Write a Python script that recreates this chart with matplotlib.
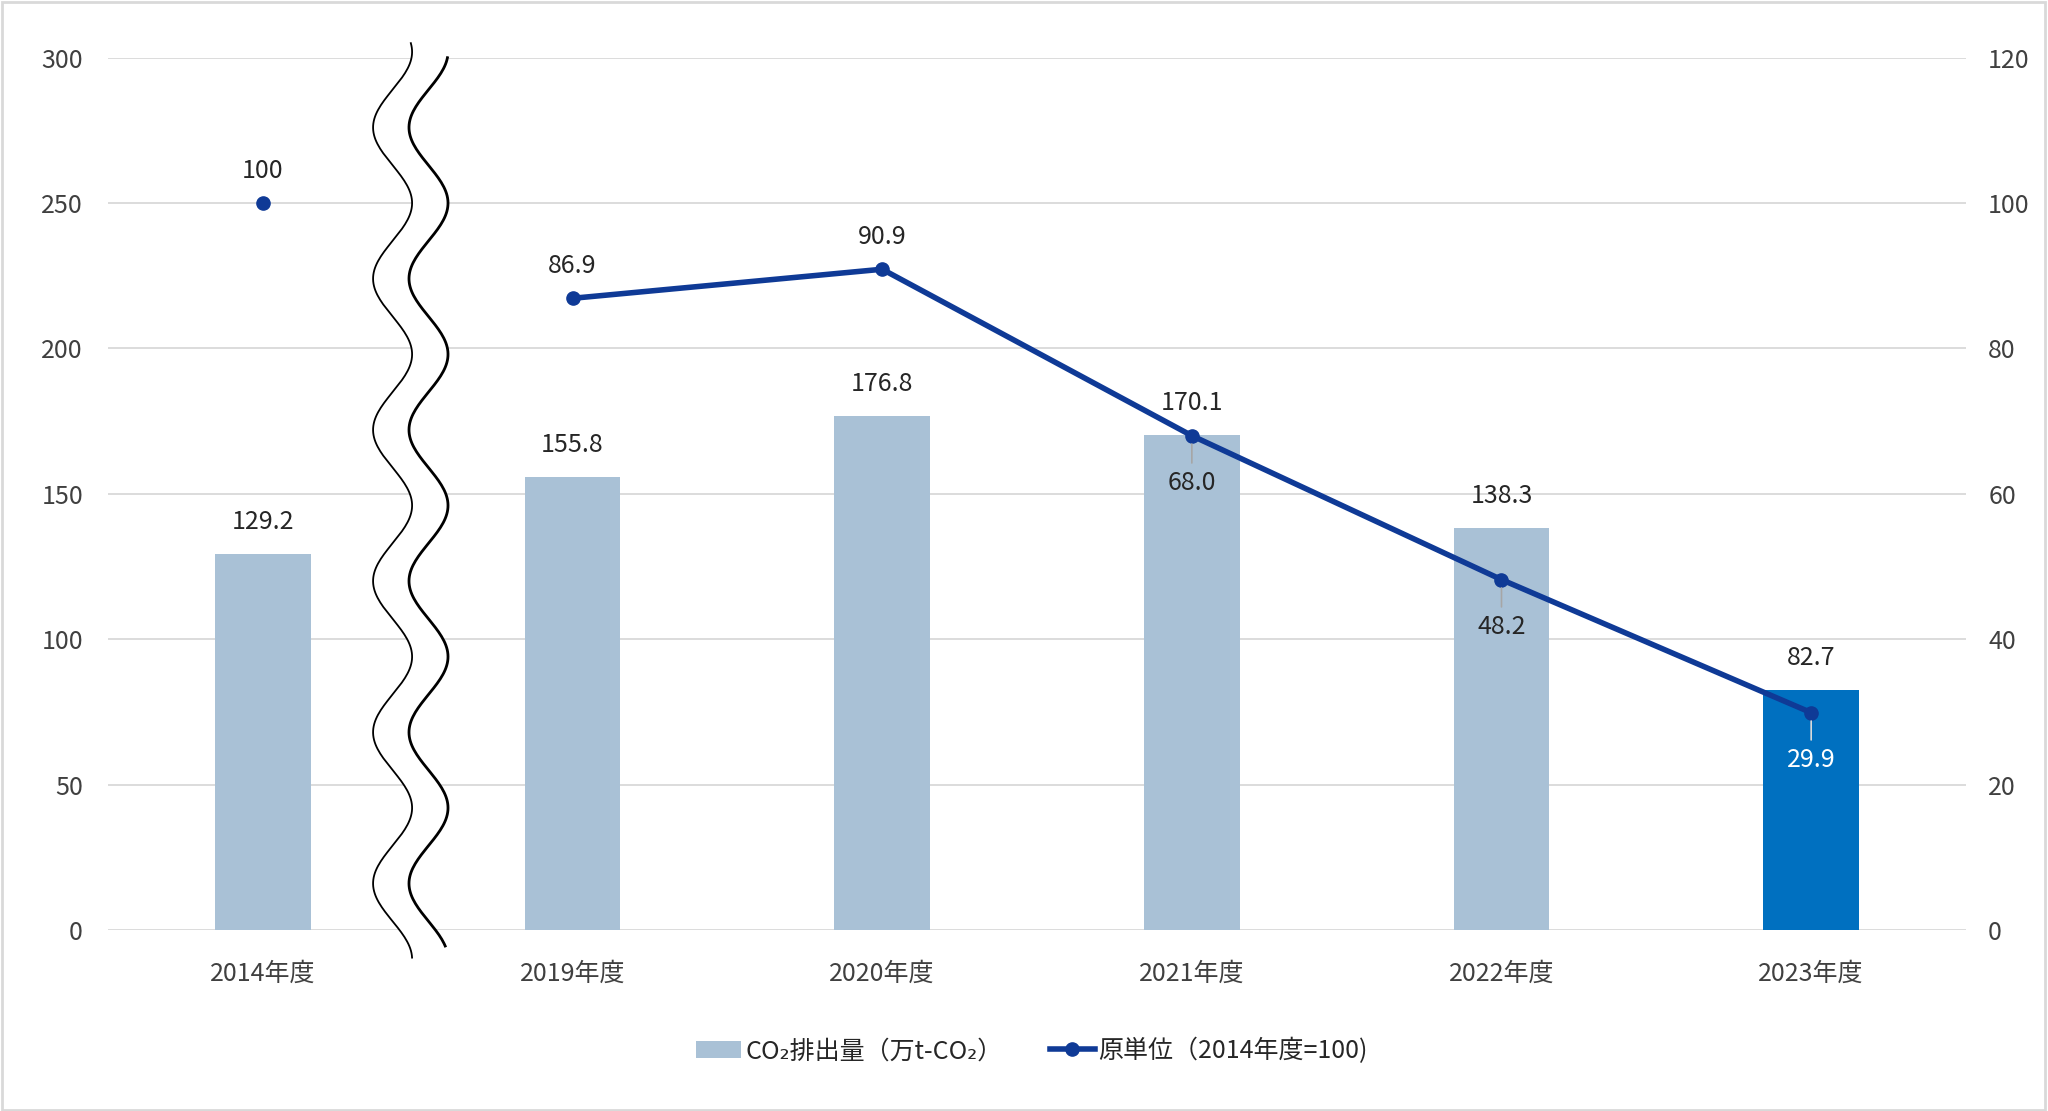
import numpy as np
import matplotlib
matplotlib.use("Agg")
import matplotlib.pyplot as plt
from matplotlib.patches import Rectangle, Polygon

plt.rcParams['font.family'] = ['Noto Sans CJK JP', 'DejaVu Sans']

# --- datos ---
anios = ['2014年度', '2019年度', '2020年度', '2021年度', '2022年度', '2023年度']
co2 = [129.2, 155.8, 176.8, 170.1, 138.3, 82.7]
unidad = [100, 86.9, 90.9, 68.0, 48.2, 29.9]
etiqueta_co2 = 'CO₂排出量（万t-CO₂）'
etiqueta_unidad = '原単位（2014年度=100)'

c_barra = '#A9C1D6'
c_ultima = '#0070C0'
c_linea = '#0F3A96'
c_texto = '#404040'
fs = 18

fig = plt.figure(figsize=(20.48, 11.11), dpi=100)
ax = fig.add_axes([108 / 2048, 1 - 930 / 1111, 1858 / 2048, (930 - 57.7) / 1111])
ax2 = ax.twinx()

x = np.arange(len(anios))
colores = [c_barra] * (len(anios) - 1) + [c_ultima]
barras = ax.bar(x, co2, width=0.31, color=colores, zorder=2, label=etiqueta_co2)

ax.set_xlim(-0.5, len(anios) - 0.5)
ax.set_ylim(0, 300)
ax.set_yticks(np.arange(0, 301, 50))
ax2.set_ylim(0, 120)
ax2.set_yticks(np.arange(0, 121, 20))
ax.set_xticks(x)
ax.set_xticklabels(anios)

ax.grid(axis='y', color='#D9D9D9', lw=1.3, zorder=0)
ax.set_axisbelow(True)
for a in (ax, ax2):
    for s in a.spines.values():
        s.set_visible(False)
ax.tick_params(axis='y', length=0, pad=18, labelsize=fs, labelcolor=c_texto)
ax.tick_params(axis='x', length=0, pad=22, labelsize=fs, labelcolor=c_texto)
ax2.tick_params(axis='y', length=0, pad=16, labelsize=fs, labelcolor=c_texto)

# etiquetas de las barras
for xi, v in zip(x, co2):
    ax.annotate(f'{v:.1f}', (xi, v), xytext=(0, 23), textcoords='offset points',
                ha='center', va='center', fontsize=fs, color='#262626', zorder=5)

# linea del original unitario (2014 aislado)
ax2.plot(x[0], unidad[0], 'o', color=c_linea, ms=9.5, zorder=4)
linea, = ax2.plot(x[1:], unidad[1:], '-o', color=c_linea, lw=4, ms=9.5, zorder=4,
                  label=etiqueta_unidad)

arriba = [True, True, True, False, False, False]
for i, (xi, v) in enumerate(zip(x, unidad)):
    txt = f'{v:.1f}' if i > 0 else f'{v:.0f}'
    if arriba[i]:
        ax2.annotate(txt, (xi, v), xytext=(0, 23), textcoords='offset points',
                     ha='center', va='center', fontsize=fs, color='#262626', zorder=5)
    else:
        col = 'white' if i == len(anios) - 1 else '#262626'
        guia = '#D9D9D9' if i == len(anios) - 1 else '#A6A6A6'
        ax2.annotate(txt, (xi, v), xytext=(0, -34), textcoords='offset points',
                     ha='center', va='center', fontsize=fs, color=col, zorder=5,
                     arrowprops=dict(arrowstyle='-', color=guia, lw=1.2,
                                     relpos=(0.5, 1), shrinkA=3, shrinkB=6))

# corte ondulado entre 2014 y 2019
periodo = 52
yi = np.linspace(-9.5, 305, 400)
yd = np.linspace(-5.5, 300, 400)
xi_c = 0.419 + 0.063 * np.cos(2 * np.pi * (yi - 250) / periodo)
xd_c = 0.535 + 0.063 * np.cos(2 * np.pi * (yd - 250) / periodo)
poli = np.vstack([np.column_stack([xi_c, yi]), np.column_stack([xd_c, yd])[::-1]])
ax.add_patch(Polygon(poli, closed=True, fc='white', ec='none', zorder=3, clip_on=False))
ax.plot(xi_c, yi, color='black', lw=1.3, zorder=3.5, clip_on=False)
ax.plot(xd_c, yd, color='black', lw=2.0, zorder=3.5, clip_on=False)

# leyenda
fig.legend([barras, linea], [etiqueta_co2, etiqueta_unidad], loc='center',
           bbox_to_anchor=(0.504, 1 - 1051 / 1111), ncol=2, frameon=False,
           fontsize=fs, columnspacing=1.9, handlelength=1.8, handletextpad=0.15,
           labelcolor='#262626')

# borde del area del grafico
fig.patches.append(Rectangle((0.0008, 0.001), 0.9975, 0.997, transform=fig.transFigure,
                             fill=False, ec='#D9D9D9', lw=2))

fig.savefig('out.png', dpi=100)
